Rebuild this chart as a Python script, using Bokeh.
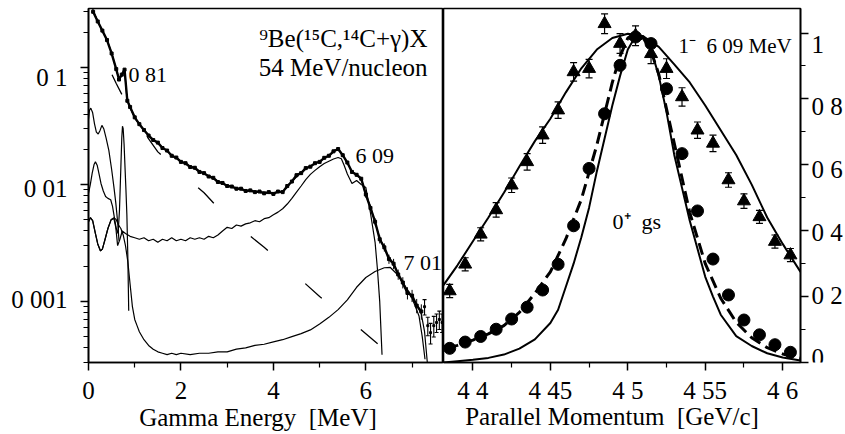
import numpy as np
from bokeh.plotting import figure
from bokeh.layouts import row, column
from bokeh.models import FixedTicker, Label, Range1d
from bokeh.embed import file_html
from bokeh.resources import INLINE

FONT = "Liberation Serif"

# ---------------- left panel: gamma spectrum ----------------
left_xticks = [0, 2, 4, 6]
left_xlabels = ["0", "2", "4", "6"]
left_yticks = [0.001, 0.01, 0.1]
left_ylabels = ["0 001", "0 01", "0 1"]

spec_E = [0.1, 0.2, 0.3, 0.4, 0.5, 0.6, 0.66, 0.72, 0.78, 0.84, 0.9, 1.0, 1.1, 1.2, 1.3, 1.4, 1.5,
          1.6, 1.7, 1.8, 1.9, 2.0, 2.1, 2.2, 2.3, 2.4, 2.5, 2.6, 2.7, 2.8, 2.9, 3.0, 3.1, 3.2,
          3.3, 3.4, 3.5, 3.6, 3.7, 3.8, 3.9, 4.0, 4.1, 4.2, 4.3, 4.4, 4.5, 4.6, 4.7, 4.8, 4.9,
          5.0, 5.1, 5.2, 5.3, 5.4, 5.5, 5.6, 5.7, 5.8, 5.9, 6.0, 6.1, 6.2, 6.3, 6.4, 6.5, 6.6,
          6.7, 6.8, 6.9, 7.0, 7.1, 7.2]
spec_y = [0.300, 0.248, 0.207, 0.172, 0.132, 0.097, 0.079, 0.087, 0.096, 0.052, 0.046, 0.0375,
          0.0328, 0.0292, 0.0262, 0.0240, 0.0228, 0.0205, 0.0195, 0.0176, 0.0170, 0.0156, 0.0152,
          0.0141, 0.0139, 0.0128, 0.0125, 0.0117, 0.0114, 0.0105, 0.0103, 0.0097, 0.0096, 0.0092,
          0.0092, 0.0088, 0.0089, 0.0086, 0.0087, 0.0084, 0.0086, 0.0083, 0.0087, 0.0086, 0.0097,
          0.0106, 0.0120, 0.0125, 0.0138, 0.0142, 0.0152, 0.0156, 0.0169, 0.0176, 0.0192, 0.0201,
          0.0178, 0.0154, 0.0128, 0.0121, 0.0112, 0.0082, 0.0063, 0.0048, 0.0034, 0.0029, 0.0023,
          0.0021, 0.0017, 0.00145, 0.00118, 0.00112, 0.00092, 0.00082]
spec_relerr = [0.03] * 61 + [0.06, 0.06, 0.07, 0.08, 0.08, 0.09, 0.10, 0.10, 0.11, 0.12, 0.12,
                             0.14, 0.15]
tail_E = [7.27, 7.34, 7.40, 7.47, 7.53, 7.59, 7.65]
tail_y = [0.00090, 0.00062, 0.00054, 0.00062, 0.00066, 0.00070, 0.00066]
tail_relerr = [0.15, 0.18, 0.2, 0.2, 0.18, 0.18, 0.18]

fit_E = [0.05, 0.1, 0.2, 0.3, 0.4, 0.5, 0.6, 0.66, 0.72, 0.78, 0.83, 0.9, 1.0, 1.2, 1.4, 1.6, 1.8,
         2.0, 2.2, 2.4, 2.6, 2.8, 3.0, 3.2, 3.4, 3.6, 3.8, 4.0, 4.2, 4.3, 4.4, 4.6, 4.8, 5.0, 5.2,
         5.3, 5.4, 5.5, 5.6, 5.7, 5.8, 5.9, 6.0, 6.1, 6.2, 6.3, 6.4, 6.5, 6.6, 6.7, 6.8, 6.9,
         7.0, 7.1, 7.2, 7.27, 7.33]
fit_y = [0.36, 0.31, 0.25, 0.205, 0.172, 0.134, 0.096, 0.080, 0.086, 0.097, 0.055, 0.045, 0.037,
         0.029, 0.0243, 0.0208, 0.0179, 0.0158, 0.0143, 0.0130, 0.0118, 0.0107, 0.0098, 0.0093,
         0.0089, 0.0087, 0.0085, 0.0085, 0.0087, 0.0094, 0.0106, 0.0127, 0.0144, 0.0158, 0.0178,
         0.0190, 0.0203, 0.0180, 0.0152, 0.0130, 0.0120, 0.0113, 0.0080, 0.0065, 0.0047, 0.0035,
         0.0028, 0.0024, 0.0021, 0.0017, 0.0014, 0.0012, 0.00110, 0.00093, 0.00078, 0.00055,
         0.00030]

bkg_E = [0.1, 0.3, 0.6, 1.0, 1.5, 2.0, 2.5, 3.0, 3.8, 4.4, 5.0, 5.6, 6.3]
bkg_y = [0.19, 0.13, 0.073, 0.036, 0.019, 0.0125, 0.0085, 0.0052, 0.0029, 0.0018, 0.0011,
         0.00072, 0.00042]

r609_E = [0.0, 0.04, 0.09, 0.15, 0.2, 0.26, 0.3, 0.35, 0.42, 0.49, 0.55, 0.59, 0.63, 0.68, 0.73,
          0.8, 0.9, 1.0, 1.1, 1.2, 1.3, 1.4, 1.5, 1.6, 1.7, 1.8, 1.9, 2.0, 2.1, 2.2, 2.3, 2.4,
          2.5, 2.6, 2.7, 2.8, 2.9, 3.0, 3.1, 3.2, 3.3, 3.4, 3.5, 3.6, 3.7, 3.8, 3.9, 4.0, 4.1,
          4.2, 4.3, 4.4, 4.5, 4.6, 4.7, 4.8, 4.9, 5.0, 5.1, 5.2, 5.3, 5.4, 5.47, 5.53, 5.6, 5.7,
          5.8, 5.9, 6.0, 6.1, 6.2, 6.25, 6.3, 6.35]
r609_y = [0.0048, 0.0052, 0.0049, 0.0038, 0.0031, 0.0027, 0.0028, 0.0033, 0.0042, 0.0050, 0.0051,
          0.0043, 0.0030, 0.0034, 0.0040, 0.0038, 0.0036, 0.0035, 0.0034, 0.0035, 0.0033, 0.0034,
          0.0032, 0.0034, 0.0033, 0.0035, 0.0033, 0.0034, 0.0033, 0.0035, 0.0034, 0.0035, 0.0034,
          0.0036, 0.0035, 0.0037, 0.0040, 0.0043, 0.0042, 0.0045, 0.0044, 0.0046, 0.0047, 0.0049,
          0.0048, 0.0051, 0.0052, 0.0055, 0.0058, 0.0062, 0.0068, 0.0076, 0.0086, 0.0097, 0.0110,
          0.0122, 0.0132, 0.0142, 0.0151, 0.0158, 0.0165, 0.0170, 0.0166, 0.0146, 0.0123, 0.0102,
          0.0108, 0.0100, 0.0094, 0.0057, 0.0032, 0.0019, 0.0010, 0.00035]

r701_E = [0.0, 0.04, 0.09, 0.15, 0.2, 0.26, 0.3, 0.35, 0.42, 0.49, 0.55, 0.6, 0.65, 0.7, 0.75,
          0.8, 0.85, 0.9, 0.95, 1.0, 1.05, 1.1, 1.2, 1.3, 1.4, 1.5, 1.6, 1.7, 1.8, 1.9, 2.0, 2.2,
          2.4, 2.6, 2.8, 3.0, 3.2, 3.4, 3.6, 3.8, 4.0, 4.2, 4.4, 4.6, 4.8, 5.0, 5.2, 5.4, 5.6,
          5.8, 6.0, 6.2, 6.4, 6.53, 6.65, 6.75, 6.85, 6.95, 7.05, 7.15, 7.22, 7.28]
r701_y = [0.0048, 0.0052, 0.0049, 0.0038, 0.0031, 0.0027, 0.0028, 0.0033, 0.0042, 0.0050, 0.0052,
          0.0050, 0.0045, 0.0042, 0.0037, 0.0030, 0.0022, 0.0014, 0.0009, 0.00070, 0.00062,
          0.00055, 0.00047, 0.00042, 0.00039, 0.00037, 0.00036, 0.00035, 0.00036, 0.00035,
          0.00036, 0.00035, 0.00036, 0.00036, 0.00037, 0.00037, 0.00039, 0.00040, 0.00042,
          0.00043, 0.00045, 0.00047, 0.00050, 0.00053, 0.00057, 0.00064, 0.00073, 0.00085,
          0.00103, 0.00132, 0.00160, 0.00180, 0.00194, 0.00195, 0.00175, 0.00155, 0.00135,
          0.00118, 0.00095, 0.00075, 0.00050, 0.00032]

r081_E = [0.0, 0.04, 0.08, 0.12, 0.15, 0.19, 0.23, 0.27, 0.32, 0.37, 0.42, 0.48, 0.52, 0.56, 0.60,
          0.64, 0.67, 0.70, 0.72, 0.735, 0.75, 0.77, 0.79, 0.81, 0.83, 0.85, 0.87]
r081_y = [0.0084, 0.0100, 0.0125, 0.0148, 0.0156, 0.0145, 0.0122, 0.0102, 0.0088, 0.0079, 0.0076,
          0.0074, 0.0065, 0.0052, 0.0042, 0.0038, 0.0060, 0.0140, 0.0250, 0.0315, 0.0300, 0.0220,
          0.0140, 0.0090, 0.0055, 0.0025, 0.00083]

rlow_E = [0.0, 0.02, 0.05, 0.09, 0.13, 0.17, 0.21, 0.25, 0.29, 0.33, 0.38, 0.44, 0.50, 0.55, 0.59,
          0.63, 0.66]
rlow_y = [0.036, 0.043, 0.045, 0.041, 0.033, 0.028, 0.027, 0.029, 0.032, 0.030, 0.025, 0.0196,
          0.0135, 0.0095, 0.0070, 0.0048, 0.0033]

# ---------------- right panel: momentum distributions ----------------
right_xticks = [4.4, 4.45, 4.5, 4.55, 4.6]
right_xlabels = ["4 4", "4 45", "4 5", "4 55", "4 6"]
right_yticks = [0, 0.2, 0.4, 0.6, 0.8, 1.0]
right_ylabels = ["0", "0 2", "0 4", "0 6", "0 8", "1"]

pm_x = [4.385, 4.395, 4.405, 4.415, 4.425, 4.435, 4.445, 4.455, 4.465, 4.475, 4.485, 4.495,
        4.505, 4.515, 4.525, 4.535, 4.545, 4.555, 4.565, 4.575, 4.585, 4.595, 4.605]
exc_y = [0.217, 0.298, 0.389, 0.463, 0.538, 0.609, 0.690, 0.766, 0.882, 0.892, 1.028, 0.968,
         0.992, 0.937, 0.892, 0.806, 0.705, 0.665, 0.554, 0.490, 0.442, 0.367, 0.326]
exc_err = [0.02, 0.02, 0.02, 0.022, 0.022, 0.025, 0.025, 0.025, 0.028, 0.028, 0.03, 0.03, 0.03,
           0.03, 0.03, 0.028, 0.025, 0.025, 0.022, 0.022, 0.02, 0.02, 0.02]
gs_y = [0.043, 0.062, 0.079, 0.101, 0.132, 0.168, 0.220, 0.298, 0.415, 0.589, 0.755, 0.902,
        0.988, 0.968, 0.831, 0.634, 0.460, 0.314, 0.205, 0.129, 0.084, 0.054, 0.031]

wide_x = [4.381, 4.39, 4.40, 4.41, 4.42, 4.43, 4.44, 4.45, 4.46, 4.47, 4.48, 4.49, 4.50, 4.51,
          4.52, 4.53, 4.54, 4.55, 4.56, 4.57, 4.58, 4.59, 4.60, 4.6115]
wide_y = [0.235, 0.295, 0.368, 0.440, 0.515, 0.595, 0.672, 0.740, 0.820, 0.893, 0.950, 0.985,
          0.998, 0.990, 0.958, 0.905, 0.850, 0.780, 0.705, 0.630, 0.540, 0.440, 0.360, 0.275]

narrow_x = [4.381, 4.39, 4.40, 4.41, 4.42, 4.43, 4.44, 4.45, 4.455, 4.46, 4.465, 4.47, 4.475,
            4.48, 4.485, 4.49, 4.495, 4.50, 4.505, 4.51, 4.515, 4.52, 4.525, 4.53, 4.535, 4.54,
            4.545, 4.55, 4.555, 4.56, 4.57, 4.58, 4.59, 4.60, 4.6115]
narrow_y = [0.0, 0.004, 0.008, 0.014, 0.024, 0.042, 0.070, 0.120, 0.160, 0.230, 0.300, 0.380,
            0.470, 0.580, 0.680, 0.780, 0.870, 0.950, 0.990, 0.990, 0.950, 0.870, 0.760, 0.630,
            0.530, 0.430, 0.345, 0.260, 0.200, 0.145, 0.080, 0.050, 0.028, 0.015, 0.006]

gsfit_x = [4.383, 4.39, 4.40, 4.41, 4.42, 4.43, 4.44, 4.45, 4.46, 4.47, 4.48, 4.49, 4.495, 4.50,
           4.505, 4.51, 4.515, 4.52, 4.53, 4.54, 4.55, 4.56, 4.57, 4.58, 4.59, 4.60, 4.6115]
gsfit_y = [0.043, 0.052, 0.068, 0.087, 0.112, 0.152, 0.210, 0.275, 0.375, 0.495, 0.660, 0.850,
           0.930, 0.985, 1.000, 0.985, 0.945, 0.875, 0.665, 0.455, 0.300, 0.195, 0.122, 0.075,
           0.045, 0.026, 0.013]

# ---------------- layout geometry (page pixels) ----------------
LX0, LX1 = 0.0, 7.68
LY0, LY1 = 3.0e-4, 0.32
RX0, RX1 = 4.381, 4.6115
RY0, RY1 = 0.0, 1.0745
W, H = 845, 434
TOP, BOT = 8, 362           # frame top / bottom
L_LEFT, MID, R_RIGHT = 88, 443, 800
TICKPAD = 10                # room for outward ticks
ROW1_H = BOT + TICKPAD
STRIP_H = H - ROW1_H
FIX = 8                     # svg alphabetic baseline correction
MIDFIX = 5                  # svg middle baseline correction
DEC = np.log10(LY1 / LY0)


def lx(px):
    return LX0 + (px - L_LEFT) * (LX1 - LX0) / (MID - L_LEFT)


def ly(py):
    return LY1 / 10 ** ((py - TOP) * DEC / (BOT - TOP))


def ly_px(v):
    return TOP + np.log10(LY1 / v) * (BOT - TOP) / DEC


def rx(px):
    return RX0 + (px - MID) * (RX1 - RX0) / (R_RIGHT - MID)


def ry(py):
    return RY0 + (BOT - py) * (RY1 - RY0) / (BOT - TOP)


def ry_px(v):
    return BOT - (v - RY0) * (BOT - TOP) / (RY1 - RY0)


def style_axis(ax):
    ax.axis_line_color = "black"
    ax.axis_line_width = 1.6
    ax.major_tick_line_color = "black"
    ax.major_tick_line_width = 1.5
    ax.minor_tick_line_color = "black"
    ax.minor_tick_line_width = 1.2
    ax.major_tick_in = 0
    ax.major_tick_out = 8
    ax.minor_tick_in = 0
    ax.minor_tick_out = 5
    ax.major_label_text_font_size = "0px"
    ax.major_label_text_alpha = 0
    ax.major_label_standoff = 0


def style_fig(p):
    p.grid.visible = False
    p.outline_line_color = "black"
    p.outline_line_width = 1.6
    p.background_fill_color = "white"
    p.border_fill_color = "white"


def strip(width, height, x_range, y_range, y_log=False):
    s = figure(width=width, height=height, x_range=x_range, y_range=y_range, title=None,
               y_axis_type="log" if y_log else "linear", x_axis_location=None,
               y_axis_location=None, output_backend="svg", toolbar_location=None,
               min_border=0, min_border_left=0, min_border_right=0, min_border_top=0,
               min_border_bottom=0)
    s.grid.visible = False
    s.outline_line_color = None
    s.background_fill_color = "white"
    s.border_fill_color = "white"
    return s


def add_text(p, x, y, txt, size="25px", align="left", baseline="alphabetic"):
    p.add_layout(Label(x=x, y=y, text=txt, text_font=FONT, text_font_size=size,
                       text_color="black", text_align=align, text_baseline=baseline))


# ---------- left panel ----------
left = figure(width=MID - L_LEFT + TICKPAD, height=ROW1_H, title=None,
              x_range=Range1d(LX0, LX1), y_range=Range1d(LY0, LY1),
              y_axis_type="log", output_backend="svg", toolbar_location=None,
              min_border_left=TICKPAD, min_border_right=0, min_border_top=TOP,
              min_border_bottom=TICKPAD)
style_fig(left)
style_axis(left.xaxis[0])
style_axis(left.yaxis[0])
left.xaxis.ticker = FixedTicker(ticks=left_xticks, minor_ticks=[1, 3, 5, 7])
minor_log = [m * 10.0 ** k for k in (-4, -3, -2, -1) for m in range(2, 10)]
minor_log = [t for t in minor_log if LY0 <= t <= LY1]
left.yaxis.ticker = FixedTicker(ticks=left_yticks, minor_ticks=minor_log)

left.line(bkg_E, bkg_y, line_color="black", line_width=1.3, line_dash="22 50",
          line_dash_offset=28)
left.line(rlow_E, rlow_y, line_color="black", line_width=1.2)
left.line(r081_E, r081_y, line_color="black", line_width=1.2)
left.line(r609_E, r609_y, line_color="black", line_width=1.2)
left.line(r701_E, r701_y, line_color="black", line_width=1.2)
sE = np.array(spec_E)
sy = np.array(spec_y)
sr = np.array(spec_relerr)
left.line(spec_E, spec_y, line_color="black", line_width=2.4)
left.segment(x0=sE, y0=sy * (1 - sr), x1=sE, y1=sy * (1 + sr), line_color="black", line_width=1)
left.scatter(spec_E, spec_y, marker="square", size=3, color="black")
tE = np.array(tail_E)
ty = np.array(tail_y)
tr = np.array(tail_relerr)
left.segment(x0=tE, y0=ty * (1 - tr), x1=tE, y1=ty * (1 + tr), line_color="black", line_width=1.1)
left.scatter(tE, ty * (1 - tr), marker="dash", size=4, line_color="black", line_width=1.1)
left.scatter(tE, ty * (1 + tr), marker="dash", size=4, line_color="black", line_width=1.1)
left.scatter(tE, ty, marker="square", size=2, color="black")
left.line(fit_E, fit_y, line_color="black", line_width=1.2)

add_text(left, lx(128), ly(82 - FIX), "0 81", size="22px")
add_text(left, lx(355), ly(163 - FIX), "6 09", size="22px")
add_text(left, lx(403), ly(270 - FIX), "7 01", size="22px")
add_text(left, lx(427), ly(46 - FIX), "\u2079Be(\u00b9\u2075C,\u00b9\u2074C+\u03b3)X",
         align="right")
add_text(left, lx(427), ly(75 - FIX), "54 MeV/nucleon", align="right")

# ---------- right panel ----------
right = figure(width=R_RIGHT - MID + TICKPAD, height=ROW1_H, title=None,
               x_range=Range1d(RX0, RX1), y_range=Range1d(RY0, RY1),
               y_axis_location="right", output_backend="svg", toolbar_location=None,
               min_border_left=0, min_border_right=TICKPAD, min_border_top=TOP,
               min_border_bottom=TICKPAD)
style_fig(right)
style_axis(right.xaxis[0])
style_axis(right.yaxis[0])
right.xaxis.ticker = FixedTicker(ticks=right_xticks, minor_ticks=[4.425, 4.475, 4.525, 4.575])
right.yaxis.ticker = FixedTicker(ticks=right_yticks, minor_ticks=[0.1, 0.3, 0.5, 0.7, 0.9])

right.line(wide_x, wide_y, line_color="black", line_width=2)
right.line(narrow_x, narrow_y, line_color="black", line_width=2)
right.line(gsfit_x, gsfit_y, line_color="black", line_width=3, line_dash="12 6")
px = np.array(pm_x)
ey = np.array(exc_y)
ee = np.array(exc_err)
right.segment(x0=px, y0=ey - ee, x1=px, y1=ey + ee, line_color="black", line_width=1.2)
right.scatter(px, ey - ee, marker="dash", size=7, line_color="black", line_width=1.2)
right.scatter(px, ey + ee, marker="dash", size=7, line_color="black", line_width=1.2)
right.scatter(pm_x, exc_y, marker="triangle", size=13, color="black")
right.scatter(pm_x, gs_y, marker="circle", size=12, color="black")

add_text(right, rx(678), ry(53 - FIX), "1\u207b\u00a0 6 09 MeV", size="21px")
add_text(right, rx(612), ry(229 - FIX), "0\u207a\u00a0 gs", size="22px")

# ---------- text strips holding tick labels and axis titles ----------
YL_W = L_LEFT - TICKPAD
ylab_l = strip(YL_W, ROW1_H, Range1d(0, YL_W), Range1d(ly(ROW1_H), ly(0)), y_log=True)
for t, lab in zip(left_yticks, left_ylabels):
    add_text(ylab_l, 67, ly(ly_px(t) + MIDFIX), lab, align="right", baseline="middle")

YR_X0 = R_RIGHT + TICKPAD
ylab_r = strip(W - YR_X0, ROW1_H, Range1d(YR_X0, W), Range1d(ry(ROW1_H), ry(0)))
for t, lab in zip(right_yticks, right_ylabels):
    add_text(ylab_r, YR_X0 + 1, ry(ry_px(t) + MIDFIX), lab, align="left", baseline="middle")

xlab_l = strip(MID, STRIP_H, Range1d(lx(0), lx(MID)), Range1d(H, ROW1_H))
for t, lab in zip(left_xticks, left_xlabels):
    add_text(xlab_l, t, 398 - FIX, lab, align="center")
add_text(xlab_l, lx(257.5), 425 - FIX, "Gamma Energy \u00a0[MeV]", align="center")

xlab_r = strip(W - MID, STRIP_H, Range1d(rx(MID), rx(W)), Range1d(H, ROW1_H))
for t, lab in zip(right_xticks, right_xlabels):
    add_text(xlab_r, t, 397.5 - FIX, lab, align="center")
add_text(xlab_r, rx(611.5), 424 - FIX, "Parallel Momentum \u00a0[GeV/c]", align="center")

layout = column(row(ylab_l, left, right, ylab_r, spacing=0),
                row(xlab_l, xlab_r, spacing=0),
                spacing=0)
open("out.html", "w").write(file_html(layout, INLINE))
